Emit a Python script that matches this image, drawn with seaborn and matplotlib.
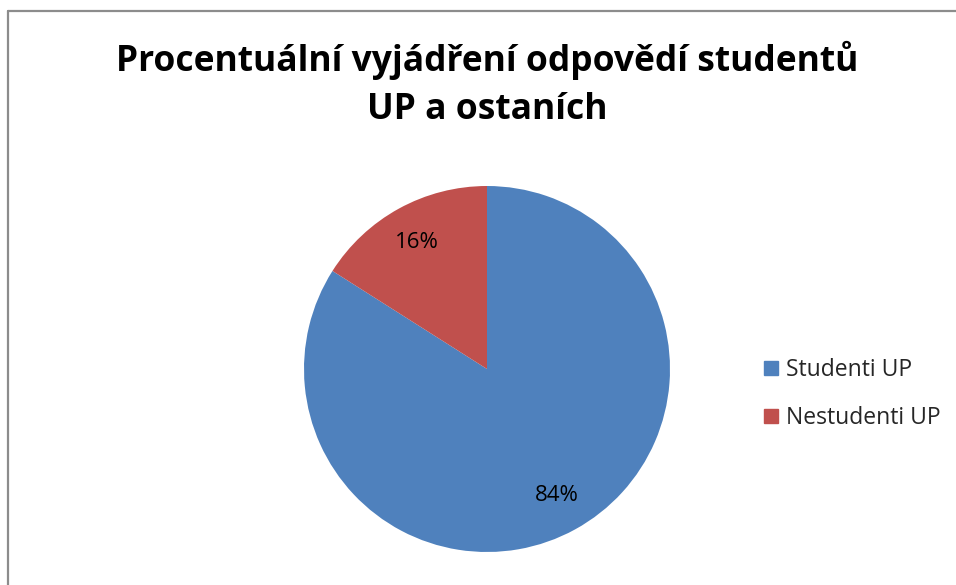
import matplotlib
matplotlib.use('Agg')
import matplotlib.pyplot as plt
import matplotlib.patches as mpatches
from matplotlib.lines import Line2D
import seaborn as sns

# Data
categories = ['Studenti UP', 'Nestudenti UP']
shares = [84, 16]
title_text = 'Procentuální vyjádření odpovědí studentů\nUP a ostaních'

sns.set_theme(style='white')
plt.rcParams['font.family'] = ['Open Sans', 'DejaVu Sans']

colors = ['#4F81BD', '#C0504D']

W, H = 956, 585
fig = plt.figure(figsize=(W / 100, H / 100), dpi=100)
fig.patch.set_facecolor('white')

# Pie axes: center (487, 369), radius 183 px
cx, cy, r = 487, 369, 183
ax = fig.add_axes([(cx - r) / W, (H - cy - r) / H, 2 * r / W, 2 * r / H])
wedges, texts, autotexts = ax.pie(
    shares, colors=colors, startangle=90, counterclock=False,
    autopct='%1.0f%%', pctdistance=0.79, radius=1,
    wedgeprops=dict(linewidth=0),
    textprops=dict(fontsize=16, color='black'))
ax.set_xlim(-1, 1)
ax.set_ylim(-1, 1)
ax.set_aspect('equal')
ax.axis('off')

# Title
fig.text(487 / W, 1 - 84 / H, title_text, ha='center', va='center',
         fontsize=25.5, fontweight='bold', linespacing=1.45, color='black')

# Legend
handles = [mpatches.Patch(color=c, label=l) for c, l in zip(colors, categories)]
fig.legend(handles=handles, loc='center left', bbox_to_anchor=(753 / W, 1 - 394 / H),
           frameon=False, fontsize=16.5, handlelength=0.57, handleheight=0.57,
           handletextpad=0.35, labelspacing=1.05, borderpad=0)

# Chart frame (only left and top edges visible)
fig.add_artist(Line2D([7.5 / W, 7.5 / W], [0, 1 - 10.5 / H], transform=fig.transFigure,
                      color='#8c8c8c', linewidth=1.6))
fig.add_artist(Line2D([7.5 / W, 1], [1 - 10.5 / H, 1 - 10.5 / H], transform=fig.transFigure,
                      color='#8c8c8c', linewidth=1.6))

fig.savefig('out.png', dpi=100)
